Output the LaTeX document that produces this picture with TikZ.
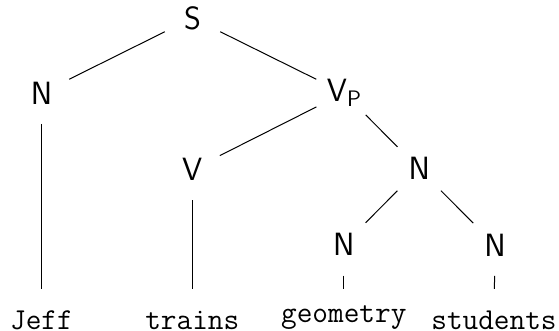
\documentclass[tikz,border=0pt]{standalone}
\tikzset{
  cat/.style={circle,inner sep=0pt,minimum size=30.5pt,font=\fontsize{16.1}{19}\sffamily},
  word/.style={rectangle,inner xsep=0pt,inner ysep=10.75pt,font=\fontsize{15.2}{18}\ttfamily,text height=9.2pt,text depth=0pt},
  branch/.style={line width=0.5pt}
}
\begin{document}
\begin{tikzpicture}[x=0.5pt,y=-0.5pt]
      \useasboundingbox (0,0) rectangle (559,331);

      % Categories
      \node[cat] (s) at (192.5,18) {S};
      \node[cat] (n1) at (41.5,93) {N};
      \node[cat] (vp) at (344,93) {V\raisebox{-2.8pt}{\fontsize{11.2}{13}\selectfont P}};
      \node[cat] (v) at (192.3,169.5) {V};
      \node[cat] (n2) at (419.2,168.8) {N};
      \node[cat] (n3) at (343.8,244.7) {N};
      \node[cat] (n4) at (495,245) {N};

      % Words
      \node[word] (jeff) at (41.5,320) {Jeff};
      \node[word] (trains) at (192.3,320) {trains};
      \node[word] (geometry) at (343.8,320) {\raisebox{3.3pt}{geometry}};
      \node[word] (students) at (494,320) {students};

      % Branches
      \draw[branch] (s) -- (n1);
      \draw[branch] (s) -- (vp);
      \draw[branch] (vp) -- (v);
      \draw[branch] (vp) -- (n2);
      \draw[branch] (n2) -- (n3);
      \draw[branch] (n2) -- (n4);
      \draw[branch] (n1) -- (jeff);
      \draw[branch] (v) -- (trains);
      \draw[branch] (n3) -- (geometry);
      \draw[branch] (n4) -- (students);
    \end{tikzpicture}
\end{document}
